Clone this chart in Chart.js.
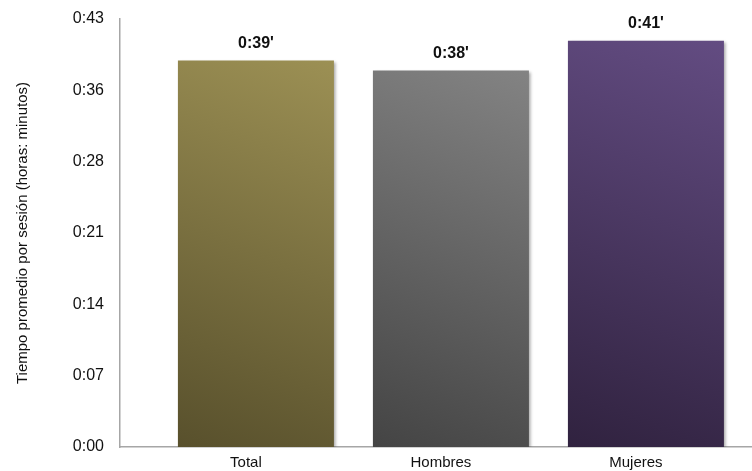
<!DOCTYPE html>
<html>
<head>
<meta charset="utf-8">
<script src="https://cdn.jsdelivr.net/npm/chart.js@4.4.1/dist/chart.umd.min.js"></script>
<style>
  html, body { margin: 0; padding: 0; background: #fff; }
  #wrap { width: 752px; height: 471px; }
</style>
</head>
<body>
<div id="wrap"><canvas id="timeChart"></canvas></div>
<script>
// datos (minutos por sesión)
const categories = ['Total', 'Hombres', 'Mujeres'];
const minutes = [39, 38, 41];
const valueLabels = ["0:39'", "0:38'", "0:41'"];

// ejes de Excel: pasos de 0,005 días (7,2 min)
const yTickValues = [0, 7.2, 14.4, 21.6, 28.8, 36, 43.2];
const yTickLabels = ['0:00', '0:07', '0:14', '0:21', '0:28', '0:36', '0:43'];

// colores degradado (oscuro abajo, claro arriba)
const darkColors = ['#58502c', '#444444', '#30223f'];
const lightColors = ['#9c9054', '#838383', '#634c82'];

function barFill(ctx) {
    const chart = ctx.chart;
    const i = ctx.dataIndex;
    if (!chart.chartArea || i === undefined) return lightColors[i || 0];
    const xs = chart.scales.x, ys = chart.scales.y;
    const left = xs.getPixelForValue(i - 0.4);
    const right = xs.getPixelForValue(i + 0.4);
    const top = ys.getPixelForValue(minutes[i]);
    const base = ys.getPixelForValue(0);
    const g = chart.ctx.createLinearGradient(left, base, right, top);
    g.addColorStop(0, darkColors[i]);
    g.addColorStop(1, lightColors[i]);
    return g;
}

// sombra + etiquetas sobre las barras
const barExtras = {
    id: 'barExtras',
    beforeDatasetDraw(chart) {
        const c = chart.ctx;
        c.save();
        c.shadowColor = 'rgba(0,0,0,0.35)';
        c.shadowBlur = 3;
        c.shadowOffsetX = 2;
        c.shadowOffsetY = 1;
    },
    afterDatasetDraw(chart) {
        chart.ctx.restore();
    },
    afterDatasetsDraw(chart) {
        const c = chart.ctx;
        const meta = chart.getDatasetMeta(0);
        c.save();
        c.font = 'bold 16px "Liberation Sans", Arial, sans-serif';
        c.fillStyle = '#111';
        c.textAlign = 'center';
        c.textBaseline = 'middle';
        meta.data.forEach((bar, i) => {
            c.fillText(valueLabels[i], bar.x, bar.y - 17);
        });
        c.restore();
    }
};

new Chart(document.getElementById('timeChart'), {
    type: 'bar',
    data: {
        datasets: [{
            data: minutes.map((m, i) => ({ x: i, y: m })),
            backgroundColor: barFill,
            borderWidth: 0,
            barPercentage: 0.8,
            categoryPercentage: 1
        }]
    },
    options: {
        responsive: true,
        maintainAspectRatio: false,
        animation: false,
        layout: { padding: { top: 19, right: 0, left: 14, bottom: 0 } },
        plugins: { legend: { display: false }, tooltip: { enabled: false } },
        scales: {
            x: {
                type: 'linear',
                offset: false,
                min: -0.697,
                max: 2.544,
                grid: { display: false, drawTicks: false, offset: false },
                border: { color: '#a6a6a6', width: 1.5 },
                afterBuildTicks: s => { s.ticks = categories.map((c, i) => ({ value: i })); },
                afterFit: s => { s.height = 24; s.paddingLeft = 0; s.paddingRight = 0; },
                ticks: {
                    padding: 7,
                    labelOffset: -10,
                    color: '#111',
                    font: { size: 15, family: '"Liberation Sans", Arial, sans-serif' },
                    callback: v => categories[v]
                }
            },
            y: {
                min: 0,
                max: 43.2,
                grid: { display: false, drawTicks: false },
                border: { color: '#a6a6a6', width: 1.5 },
                afterBuildTicks: s => { s.ticks = yTickValues.map(v => ({ value: v })); },
                afterFit: s => { s.width = 106; s.paddingTop = 0; s.paddingBottom = 0; },
                ticks: {
                    padding: 16,
                    color: '#111',
                    font: { size: 16, family: '"Liberation Sans", Arial, sans-serif' },
                    callback: v => yTickLabels[yTickValues.indexOf(v)]
                },
                title: {
                    display: true,
                    text: 'Tiempo promedio por sesión (horas: minutos)',
                    color: '#111',
                    padding: { top: 0, bottom: 0 },
                    font: { size: 15, family: '"Liberation Sans", Arial, sans-serif' }
                }
            }
        }
    },
    plugins: [barExtras]
});
</script>
</body>
</html>
